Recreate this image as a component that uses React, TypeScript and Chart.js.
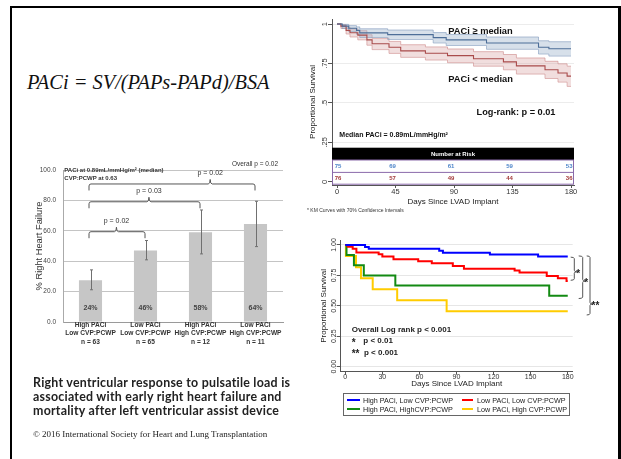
import React, { useEffect, useRef } from "react";
import { Chart, registerables } from "chart.js";

Chart.register(...registerables);

const SANS = "'Liberation Sans', Arial, Helvetica, sans-serif";
const SERIF = "'Liberation Serif', 'Times New Roman', serif";

// ---------- Top-right Kaplan-Meier (PACi median split) ----------
const topTicksX = [0, 45, 90, 135, 180];
const topTicksY = [0, 0.25, 0.5, 0.75, 1];
const topHighDays = [0, 4, 9, 15, 17.5, 39, 74, 84, 115, 155, 163, 180];
const topHighSurv = [1, 0.987, 0.973, 0.96, 0.944, 0.933, 0.914, 0.9, 0.88, 0.853, 0.843, 0.843];
const topHighUpper = [1, 0.998, 0.99, 0.982, 0.97, 0.962, 0.946, 0.934, 0.918, 0.894, 0.888, 0.888];
const topHighLower = [1, 0.972, 0.952, 0.935, 0.915, 0.902, 0.88, 0.864, 0.84, 0.81, 0.797, 0.797];
const topLowDays = [0, 3, 7, 10, 16, 23, 27, 40, 49, 68, 85, 105, 128, 138, 160, 170, 177, 180];
const topLowSurv = [1, 0.987, 0.96, 0.945, 0.93, 0.9, 0.875, 0.853, 0.83, 0.815, 0.8, 0.78, 0.76, 0.735, 0.71, 0.69, 0.67, 0.67];
const topLowUpper = [1, 0.997, 0.98, 0.97, 0.958, 0.932, 0.91, 0.89, 0.869, 0.855, 0.842, 0.825, 0.807, 0.785, 0.764, 0.748, 0.733, 0.733];
const topLowLower = [1, 0.972, 0.937, 0.918, 0.9, 0.866, 0.838, 0.814, 0.789, 0.772, 0.755, 0.733, 0.71, 0.683, 0.655, 0.632, 0.605, 0.605];
const riskHigh = [75, 69, 61, 59, 53];
const riskLow = [76, 57, 49, 44, 36];

// ---------- Bar chart ----------
const barCategories = [
  ["High PACi", "Low CVP:PCWP", "n = 63"],
  ["Low PACi", "Low CVP:PCWP", "n = 65"],
  ["High PACi", "High CVP:PCWP", "n = 12"],
  ["Low PACi", "High CVP:PCWP", "n = 11"],
];
const barValues = [27.5, 47, 59, 64.5];
const barErrLow = [21.2, 40.9, 44.8, 49.6];
const barErrHigh = [34.3, 53.6, 73.7, 79.4];
const barLabels = ["24%", "46%", "58%", "64%"];
const barTicks = [0, 20, 40, 60, 80, 100];
const bracketFrom = [0, 0, 0];
const bracketTo = [1, 2, 3];
const bracketLevel = [59.4, 79.1, 90.8];
const bracketText = ["p = 0.02", "p = 0.03", "p = 0.02"];
const bracketNotch = [0.49, 0.54, 0.73];

// ---------- Bottom-right Kaplan-Meier (4 groups) ----------
const botTicksX = [0, 30, 60, 90, 120, 150, 180];
const botTicksY = [0, 0.25, 0.5, 0.75, 1];
const botGroups = [
  "High PACi, Low CVP:PCWP",
  "Low PACi, Low CVP:PCWP",
  "High PACi, HighCVP:PCWP",
  "Low PACi, High CVP:PCWP",
];
const botColors = ["#0000ff", "#ff0000", "#138a13", "#ffcc00"];
const botBlueDays = [0, 16, 19, 76, 79, 117, 156, 180];
const botBlueSurv = [1, 0.984, 0.968, 0.952, 0.937, 0.921, 0.905, 0.905];
const botRedDays = [0, 2, 6, 9, 27, 30, 39, 59, 70, 87, 96, 137, 141, 163, 172, 179, 180];
const botRedSurv = [1, 0.985, 0.969, 0.938, 0.923, 0.906, 0.882, 0.866, 0.85, 0.827, 0.805, 0.79, 0.773, 0.745, 0.726, 0.704, 0.704];
const botGreenDays = [0, 1, 7, 15, 40.5, 165, 180];
const botGreenSurv = [1, 0.917, 0.833, 0.75, 0.667, 0.583, 0.583];
const botYellowDays = [0, 0.5, 8.7, 12.7, 22.2, 42, 82, 180];
const botYellowSurv = [1, 0.909, 0.818, 0.727, 0.636, 0.545, 0.455, 0.455];
const sigTop = [0.9, 0.91, 0.91];
const sigBottom = [0.71, 0.56, 0.425];
const sigMid = [0.78, 0.704, 0.515];
const sigMarks = ["*", "*", "**"];

const pts = (d: number[], v: number[]) => d.map((x, i) => ({ x, y: v[i] }));
const fixedTicks = (vals: number[]) => (s: any) => {
  s.ticks = vals.map((v) => ({ value: v }));
};

// ---------- plugins ----------
const topNotes = {
  id: "topNotes",
  afterDraw(chart: any) {
    const { ctx, chartArea: a, scales } = chart;
    const x = scales.x, y = scales.y;
    ctx.save();
    ctx.fillStyle = "#111";
    ctx.textBaseline = "middle";
    ctx.textAlign = "center";
    ctx.font = `bold 9.3px ${SANS}`;
    ctx.fillText("PACi \u2265 median", x.getPixelForValue(110.4), y.getPixelForValue(0.956));
    ctx.fillText("PACi < median", x.getPixelForValue(110.4), y.getPixelForValue(0.652));
    ctx.font = `bold 9.2px ${SANS}`;
    ctx.fillText("Log-rank: p = 0.01", x.getPixelForValue(137.7), y.getPixelForValue(0.437));
    ctx.textAlign = "left";
    ctx.font = `bold 7px ${SANS}`;
    ctx.fillText("Median PACi = 0.89mL/mmHg/m\u00b2", x.getPixelForValue(1.8), y.getPixelForValue(0.297));

    // Number at risk table
    const tTop = a.bottom - 37.3, hBot = a.bottom - 25, mid = a.bottom - 12.6, tBot = a.bottom - 0.8;
    ctx.fillStyle = "#000";
    ctx.fillRect(a.left, tTop, a.right - a.left, hBot - tTop);
    ctx.fillStyle = "#fff";
    ctx.fillRect(a.left, hBot, a.right - a.left, tBot - hBot);
    ctx.strokeStyle = "#8a6aaa";
    ctx.lineWidth = 1;
    ctx.strokeRect(a.left + 0.5, hBot, a.right - a.left - 1, tBot - hBot);
    ctx.beginPath();
    ctx.moveTo(a.left, mid);
    ctx.lineTo(a.right, mid);
    ctx.stroke();
    ctx.fillStyle = "#fff";
    ctx.textAlign = "center";
    ctx.font = `bold 6px ${SANS}`;
    ctx.fillText("Number at Risk", (a.left + a.right) / 2, (tTop + hBot) / 2);
    const rows = [riskHigh, riskLow];
    const rowColors = ["#4f86c9", "#a33a3a"];
    const rowY = [(hBot + mid) / 2, (mid + tBot) / 2];
    rows.forEach((row, r) => {
      ctx.fillStyle = rowColors[r];
      row.forEach((n, i) => {
        const px = x.getPixelForValue(topTicksX[i]);
        if (i === row.length - 1) {
          ctx.textAlign = "right";
          ctx.fillText(String(n), a.right - 1.5, rowY[r]);
        } else if (i === 0) {
          ctx.textAlign = "center";
          ctx.fillText(String(n), px + 1, rowY[r]);
        } else {
          ctx.textAlign = "center";
          ctx.fillText(String(n), px - 3, rowY[r]);
        }
      });
    });
    ctx.restore();
  },
};

const barNotes = {
  id: "barNotes",
  afterDatasetsDraw(chart: any) {
    const { ctx, chartArea: a, scales } = chart;
    const x = scales.x, y = scales.y;
    ctx.save();
    ctx.strokeStyle = "#707070";
    ctx.lineWidth = 1;
    barValues.forEach((_, i) => {
      const cx = Math.round(x.getPixelForValue(i)) + 0.5;
      const t = y.getPixelForValue(barErrHigh[i]);
      const b = y.getPixelForValue(barErrLow[i]);
      ctx.beginPath();
      ctx.moveTo(cx, t);
      ctx.lineTo(cx, b);
      ctx.moveTo(cx - 1.5, t);
      ctx.lineTo(cx + 1.5, t);
      ctx.moveTo(cx - 1.5, b);
      ctx.lineTo(cx + 1.5, b);
      ctx.stroke();
    });
    ctx.fillStyle = "#444";
    ctx.textAlign = "center";
    ctx.textBaseline = "middle";
    ctx.font = `bold 7px ${SANS}`;
    barLabels.forEach((t, i) => ctx.fillText(t, x.getPixelForValue(i), y.getPixelForValue(9.4)));

    ctx.strokeStyle = "#555";
    ctx.fillStyle = "#333";
    ctx.font = `7px ${SANS}`;
    bracketFrom.forEach((f, i) => {
      const x1 = x.getPixelForValue(f) - 1.5;
      const x2 = x.getPixelForValue(bracketTo[i]) - 0.5;
      const yh = y.getPixelForValue(bracketLevel[i]);
      const xn = x1 + (x2 - x1) * bracketNotch[i];
      const drop = 6.5, up = 4.5, r = 2;
      ctx.beginPath();
      ctx.moveTo(x1, yh + drop);
      ctx.lineTo(x1, yh + r);
      ctx.quadraticCurveTo(x1, yh, x1 + r, yh);
      ctx.lineTo(xn - r, yh);
      ctx.quadraticCurveTo(xn, yh, xn, yh - up);
      ctx.quadraticCurveTo(xn, yh, xn + r, yh);
      ctx.lineTo(x2 - r, yh);
      ctx.quadraticCurveTo(x2, yh, x2, yh + r);
      ctx.lineTo(x2, yh + drop);
      ctx.stroke();
      ctx.fillText(bracketText[i], xn, yh - 11);
    });

    ctx.font = `bold 6px ${SANS}`;
    ctx.textAlign = "left";
    ctx.fillText("PACi at 0.89mL/mmHg/m\u00b2 (median)", a.left + 1.3, a.top + 0.7);
    ctx.fillText("CVP:PCWP at 0.63", a.left + 1.3, a.top + 8.3);
    ctx.font = `6.5px ${SANS}`;
    ctx.textAlign = "right";
    ctx.fillText("Overall p = 0.02", a.right - 5, a.top - 6);
    ctx.restore();
  },
};

const botNotes = {
  id: "botNotes",
  afterDraw(chart: any) {
    const { ctx, chartArea: a, scales } = chart;
    const x = scales.x, y = scales.y;
    ctx.save();
    ctx.fillStyle = "#222";
    ctx.textBaseline = "middle";
    ctx.textAlign = "left";
    ctx.font = `bold 8px ${SANS}`;
    const lx = x.getPixelForValue(5.2);
    ctx.fillText("Overall Log rank p < 0.001", lx, y.getPixelForValue(0.3));
    ctx.fillText("p < 0.01", lx + 11.6, y.getPixelForValue(0.21));
    ctx.fillText("p < 0.001", lx + 12.3, y.getPixelForValue(0.115));
    ctx.font = `bold 10px ${SANS}`;
    ctx.fillText("*", lx, y.getPixelForValue(0.195));
    ctx.fillText("**", lx, y.getPixelForValue(0.1));

    const vx = [1.6, 10, 17.3];
    const endLen = [3.6, 4, 3.3];
    const markDx = [4, 3.5, 5.5];
    ctx.strokeStyle = "#555";
    ctx.lineWidth = 1;
    sigTop.forEach((tv, i) => {
      const xv = a.right + vx[i];
      const t = y.getPixelForValue(tv);
      const b = y.getPixelForValue(sigBottom[i]);
      const m = y.getPixelForValue(sigMid[i]);
      const r = 1.5;
      ctx.beginPath();
      ctx.moveTo(xv - endLen[i], t);
      ctx.quadraticCurveTo(xv, t, xv, t + r);
      ctx.lineTo(xv, m - r);
      ctx.quadraticCurveTo(xv, m, xv + 2.5, m);
      ctx.quadraticCurveTo(xv, m, xv, m + r);
      ctx.lineTo(xv, b - r);
      ctx.quadraticCurveTo(xv, b, xv - endLen[i], b);
      ctx.stroke();
      ctx.textAlign = "center";
      ctx.font = `bold 10px ${SANS}`;
      ctx.fillText(sigMarks[i], xv + markDx[i], m + 2.5);
    });
    ctx.restore();
  },
};

// ---------- chart configs ----------
function topConfig(): any {
  const base = { pointRadius: 0, stepped: true, fill: false };
  const blueEdge = "rgba(125,150,185,0.85)";
  const redEdge = "rgba(205,135,135,0.85)";
  return {
    type: "line",
    data: {
      datasets: [
        { ...base, data: pts(topHighDays, topHighSurv), borderColor: "#4d6e98", borderWidth: 1.1 },
        { ...base, data: pts(topLowDays, topLowSurv), borderColor: "#a94b4b", borderWidth: 1.1 },
        { ...base, data: pts(topHighDays, topHighUpper), borderColor: blueEdge, borderWidth: 0.7, fill: "+1", backgroundColor: "rgba(160,180,206,0.42)" },
        { ...base, data: pts(topHighDays, topHighLower), borderColor: blueEdge, borderWidth: 0.7 },
        { ...base, data: pts(topLowDays, topLowUpper), borderColor: redEdge, borderWidth: 0.7, fill: "+1", backgroundColor: "rgba(215,160,160,0.35)" },
        { ...base, data: pts(topLowDays, topLowLower), borderColor: redEdge, borderWidth: 0.7 },
      ],
    },
    options: {
      animation: false,
      responsive: false,
      maintainAspectRatio: false,
      layout: { padding: { left: 0, right: 26, top: 9, bottom: 0 } },
      plugins: { legend: { display: false }, tooltip: { enabled: false } },
      scales: {
        x: {
          type: "linear",
          min: -3.85,
          max: 182.3,
          afterBuildTicks: fixedTicks(topTicksX),
          ticks: { font: { family: SANS, size: 7.5 }, color: "#333", padding: -0.8 },
          grid: { drawOnChartArea: false, tickLength: 3, tickColor: "#555" },
          border: { color: "#555" },
          title: { display: true, text: "Days Since LVAD Implant", font: { family: SANS, size: 8 }, color: "#222", padding: { top: 0, bottom: 4 } },
          afterFit: (s: any) => { s.height = 26; },
        },
        y: {
          min: -0.02,
          max: 1.032,
          afterBuildTicks: fixedTicks(topTicksY),
          ticks: {
            font: { family: SANS, size: 7.5 },
            color: "#333",
            minRotation: 90,
            maxRotation: 90,
            crossAlign: "center",
            padding: -2.2,
            callback: (v: number) => (v === 1 ? "1" : v === 0 ? "0" : String(v).replace(/^0/, "")),
          },
          grid: { color: "#ececec", tickLength: 4, tickColor: "#555" },
          border: { color: "#555" },
          title: { display: true, text: "Proportional Survival", font: { family: SANS, size: 8 }, color: "#222", padding: { top: 8.2, bottom: 0 } },
          afterFit: (s: any) => { s.width = 32; },
        },
      },
    },
    plugins: [topNotes],
  };
}

function barConfig(): any {
  return {
    type: "bar",
    data: {
      labels: barCategories,
      datasets: [{ data: barValues, backgroundColor: "#c6c6c6", barPercentage: 0.42, categoryPercentage: 1 }],
    },
    options: {
      animation: false,
      responsive: false,
      maintainAspectRatio: false,
      layout: { padding: { left: 0, right: 17, top: 15, bottom: 0 } },
      plugins: { legend: { display: false }, tooltip: { enabled: false } },
      scales: {
        x: {
          grid: { display: false, drawTicks: false },
          border: { display: true, color: "#9a9a9a" },
          ticks: { font: { family: SANS, size: 6.6, weight: "bold", lineHeight: 1.29 }, color: "#333", padding: -1.5, maxRotation: 0, autoSkip: false },
          afterFit: (s: any) => { s.height = 33; },
        },
        y: {
          min: 0,
          max: 100,
          afterBuildTicks: fixedTicks(barTicks),
          ticks: { font: { family: SANS, size: 6.5 }, color: "#444", padding: 7, callback: (v: number) => v.toFixed(1) },
          grid: { color: "#c4c4c4", drawTicks: false, tickLength: 0 },
          border: { color: "#aaa" },
          title: { display: true, text: "% Right Heart Failure", font: { family: SANS, size: 9.3 }, color: "#333", padding: { top: 19.4, bottom: 0 } },
          afterFit: (s: any) => { s.width = 49; },
        },
      },
    },
    plugins: [barNotes],
  };
}

function botConfig(): any {
  const series = [
    [botBlueDays, botBlueSurv],
    [botRedDays, botRedSurv],
    [botGreenDays, botGreenSurv],
    [botYellowDays, botYellowSurv],
  ];
  return {
    type: "line",
    data: {
      datasets: series.map(([d, v], i) => ({
        label: botGroups[i],
        data: pts(d, v),
        borderColor: botColors[i],
        borderWidth: 2,
        pointRadius: 0,
        stepped: true,
        fill: false,
      })),
    },
    options: {
      animation: false,
      responsive: false,
      maintainAspectRatio: false,
      layout: { padding: { left: 0, right: 37.3, top: 8.1, bottom: 0 } },
      plugins: { legend: { display: false }, tooltip: { enabled: false } },
      scales: {
        x: {
          type: "linear",
          min: -3.7,
          max: 184,
          afterBuildTicks: fixedTicks(botTicksX),
          ticks: { font: { family: SANS, size: 7 }, color: "#333", padding: -2 },
          grid: { drawOnChartArea: false, tickLength: 3, tickColor: "#555" },
          border: { color: "#555" },
          title: { display: true, text: "Days Since LVAD Implant", font: { family: SANS, size: 8 }, color: "#222", padding: { top: 0, bottom: 4 } },
          afterFit: (s: any) => { s.height = 21.3; },
        },
        y: {
          min: -0.041,
          max: 1.04,
          afterBuildTicks: fixedTicks(botTicksY),
          ticks: {
            font: { family: SANS, size: 7 },
            color: "#333",
            minRotation: 90,
            maxRotation: 90,
            crossAlign: "center",
            padding: -4.4,
            callback: (v: number) => v.toFixed(2),
          },
          grid: { color: "#e6e6e6", tickLength: 4, tickColor: "#555" },
          border: { color: "#555" },
          title: { display: true, text: "Proportional Survival", font: { family: SANS, size: 8 }, color: "#222", padding: { top: 18.5, bottom: 0 } },
          afterFit: (s: any) => { s.width = 40.7; },
        },
      },
    },
    plugins: [botNotes],
  };
}

function ChartCanvas(props: { left: number; top: number; width: number; height: number; make: () => any }) {
  const ref = useRef<HTMLCanvasElement>(null);
  useEffect(() => {
    const chart = new Chart(ref.current as HTMLCanvasElement, props.make());
    return () => chart.destroy();
  }, []);
  return (
    <canvas
      ref={ref}
      width={props.width}
      height={props.height}
      style={{ position: "absolute", left: props.left, top: props.top, width: props.width, height: props.height }}
    />
  );
}

function Text(props: { left: number; top: number; style?: any; children: any }) {
  return (
    <div style={{ position: "absolute", left: props.left, top: props.top, whiteSpace: "nowrap", ...props.style }}>
      {props.children}
    </div>
  );
}

export default function App() {
  const legendRows = [
    [0, 1],
    [2, 3],
  ];
  return (
    <div style={{ position: "absolute", left: 0, top: 0, width: 621, height: 459, background: "#fff", overflow: "hidden" }}>
      <div style={{ position: "absolute", left: 10, top: 6, width: 611, height: 2, background: "#000" }} />
      <div style={{ position: "absolute", left: 10, top: 6, width: 2.3, height: 453, background: "#000" }} />
      <div style={{ position: "absolute", left: 618, top: 6, width: 2.7, height: 453, background: "#000" }} />

      <Text left={27} top={71} style={{ fontFamily: SERIF, fontStyle: "italic", fontSize: 20.4, lineHeight: "22px", color: "#111" }}>
        PACi = SV/(PAPs-PAPd)/BSA
      </Text>

      <ChartCanvas left={300} top={10} width={300} height={201} make={topConfig} />
      <Text left={307} top={207} style={{ fontFamily: SANS, fontSize: 5, lineHeight: "6px", color: "#333" }}>
        * KM Curves with 70% Confidence Intervals
      </Text>

      <ChartCanvas left={14} top={155} width={286} height={200} make={barConfig} />

      <ChartCanvas left={300} top={232} width={310} height={161} make={botConfig} />

      <div style={{ position: "absolute", left: 342.7, top: 393.3, width: 227.3, height: 22.7, border: "1px solid #666", boxSizing: "border-box", background: "#fff" }} />
      {legendRows.map((row, r) =>
        row.map((g, c) => (
          <React.Fragment key={g}>
            <div style={{ position: "absolute", left: c === 0 ? 346.7 : 461.7, top: (r === 0 ? 400 : 409.3) - 1, width: c === 0 ? 13.3 : 11.3, height: 2, background: botColors[g] }} />
            <Text left={c === 0 ? 363 : 477} top={(r === 0 ? 400 : 409.3) - 4.5} style={{ fontFamily: SANS, fontSize: 7.2, lineHeight: "9px", color: "#222" }}>
              {botGroups[g]}
            </Text>
          </React.Fragment>
        ))
      )}

      <Text left={33} top={376} style={{ fontFamily: "Lato, 'Liberation Sans', sans-serif", fontWeight: 700, fontSize: 12.4, letterSpacing: "0.25px", lineHeight: "14px", color: "#222" }}>
        Right ventricular response to pulsatile load is
        <br />
        associated with early right heart failure and
        <br />
        mortality after left ventricular assist device
      </Text>
      <Text left={33} top={428.5} style={{ fontFamily: SERIF, fontSize: 9, lineHeight: "11px", color: "#222" }}>
        © 2016 International Society for Heart and Lung Transplantation
      </Text>
    </div>
  );
}
